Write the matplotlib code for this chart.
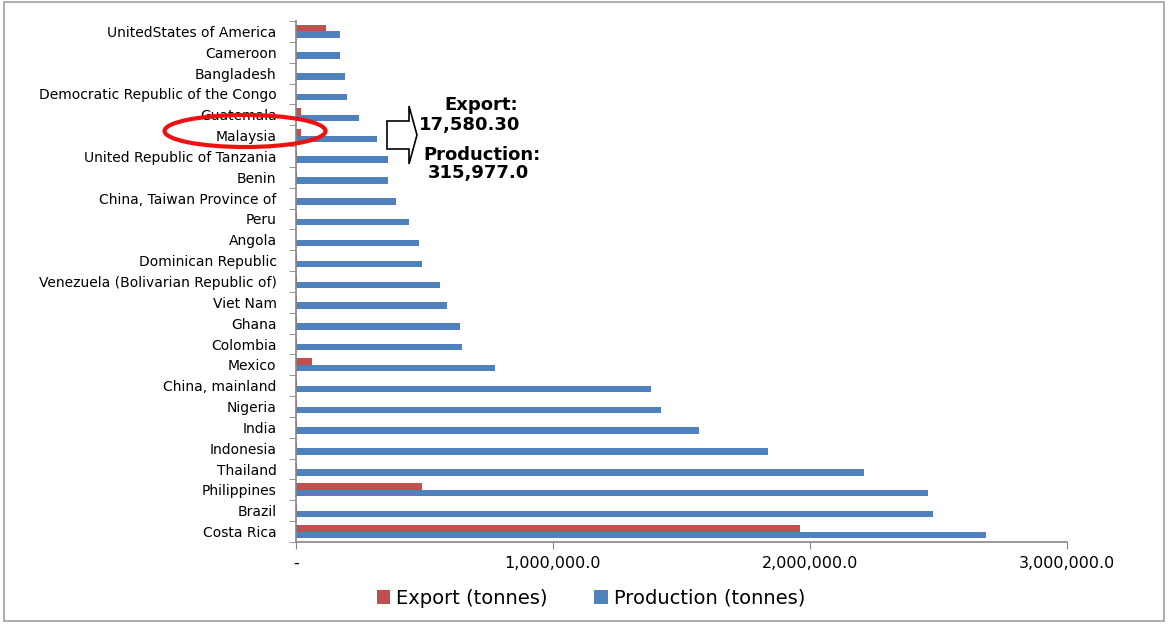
import numpy as np
import matplotlib
matplotlib.use("Agg")
import matplotlib.pyplot as plt
from matplotlib.patches import Ellipse, Polygon, Rectangle
from matplotlib.ticker import FuncFormatter, FixedLocator

# countries from bottom (Costa Rica) to top (USA)
countries = ["Costa Rica", "Brazil", "Philippines", "Thailand", "Indonesia", "India",
             "Nigeria", "China, mainland", "Mexico", "Colombia", "Ghana", "Viet Nam",
             "Venezuela (Bolivarian Republic of)", "Dominican Republic", "Angola", "Peru",
             "China, Taiwan Province of", "Benin", "United Republic of Tanzania", "Malaysia",
             "Guatemala", "Democratic Republic of the Congo", "Bangladesh", "Cameroon",
             "UnitedStates of America"]

production = [2683000, 2480000, 2458000, 2210000, 1837000, 1569000,
              1421000, 1383000, 773000, 645000, 637000, 586000,
              560000, 490000, 480000, 440000,
              390000, 357000, 357000, 315977.0,
              245000, 200000, 190000, 171000,
              171000]

export = [1960000, 4000, 490000, 3000, 3000, 2000,
          2000, 3000, 62000, 3000, 2000, 2000,
          2000, 4000, 1000, 4000,
          1000, 3000, 3000, 17580.30,
          20000, 1000, 500, 500,
          117000]

red = "#C0504D"
blue = "#4F81BD"
grey = "#868686"

fig = plt.figure(figsize=(11.69, 6.24), dpi=100)
ax = fig.add_axes([296/1169, 1-542/624, (1067-296)/1169, (542-21)/624])

y = np.arange(len(countries))
h = 0.31
ax.barh(y + h/2, export, height=h, color=red, label="Export (tonnes)")
ax.barh(y - h/2, production, height=h, color=blue, label="Production (tonnes)")

ax.set_xlim(0, 3000000)
ax.set_ylim(-0.5, len(countries) - 0.5)

for s in ["top", "right"]:
    ax.spines[s].set_visible(False)
for s in ["left", "bottom"]:
    ax.spines[s].set_color(grey)
    ax.spines[s].set_linewidth(1.2)

ax.set_xticks([0, 1000000, 2000000, 3000000])
ax.xaxis.set_major_formatter(FuncFormatter(lambda v, p: "-" if v == 0 else f"{v:,.1f}"))
ax.tick_params(axis="x", colors=grey, labelcolor="black", labelsize=11.5, length=5, pad=5)

ax.set_yticks(y)
ax.set_yticklabels(countries, fontsize=10)
ax.tick_params(axis="y", which="major", length=0, pad=14)
ax.yaxis.set_minor_locator(FixedLocator(np.arange(-0.5, len(countries), 1)))
ax.tick_params(axis="y", which="minor", length=5, color=grey)

leg = fig.legend(loc="center", bbox_to_anchor=(591/1169, 1-598/624), ncol=2, frameon=False,
                 fontsize=14, handlelength=0.7, handleheight=0.7, handletextpad=0.3,
                 columnspacing=2.4)

# annotation around Malaysia
fig.patches.append(Ellipse((245/1169, 1-131/624), 161/1169, 32/624, transform=fig.transFigure,
                           fill=False, edgecolor="#EE1111", linewidth=3))
arrow_px = [(387, 121), (409, 121), (409, 106), (417, 135), (409, 164), (409, 149), (387, 149)]
fig.patches.append(Polygon([(px/1169, 1-py/624) for px, py in arrow_px], closed=True,
                           transform=fig.transFigure, facecolor="white", edgecolor="black",
                           linewidth=1.2))
fig.text(481/1169, 1-105/624, "Export:", ha="center", va="center", fontsize=13, weight="bold")
fig.text(419/1169, 1-125/624, "17,580.30", ha="left", va="center", fontsize=13, weight="bold")
fig.text(423/1169, 1-155/624, "Production:", ha="left", va="center", fontsize=13, weight="bold")
fig.text(428/1169, 1-173/624, "315,977.0", ha="left", va="center", fontsize=13, weight="bold")

# outer frame
fig.patches.append(Rectangle((4/1169, 3/624), 1160/1169, 619/624, transform=fig.transFigure,
                             fill=False, edgecolor="#A0A0A0", linewidth=1.2))

fig.savefig("out.png", dpi=100)
